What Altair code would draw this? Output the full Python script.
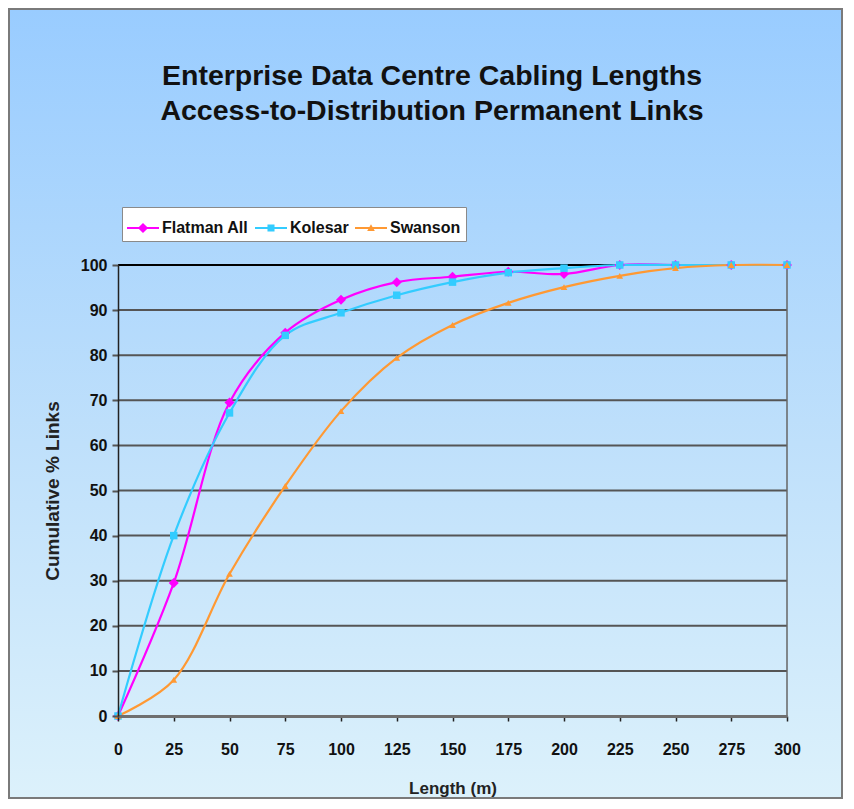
import altair as alt
import pandas as pd

# ---- data ----
lengths = [0, 25, 50, 75, 100, 125, 150, 175, 200, 225, 250, 275, 300]
flatman = [0, 29.5, 69.5, 85, 92.3, 96.2, 97.4, 98.5, 98, 100, 100, 100, 100]
kolesar = [0, 40, 67.2, 84.4, 89.4, 93.3, 96.2, 98.3, 99.3, 100, 100, 100, 100]
swanson = [0, 8, 31.5, 51, 67.6, 79.4, 86.7, 91.6, 95.1, 97.6, 99.3, 100, 100]
series_names = ["Flatman All", "Kolesar", "Swanson"]
series_colors = ["#ff00ff", "#33ccff", "#ff9933"]
x_ticks = [0, 25, 50, 75, 100, 125, 150, 175, 200, 225, 250, 275, 300]
y_ticks = [0, 10, 20, 30, 40, 50, 60, 70, 80, 90, 100]
title_lines = ["Enterprise Data Centre Cabling Lengths",
               "Access-to-Distribution Permanent Links"]

color_of = dict(zip(series_names, series_colors))
rows = []
for name, vals in zip(series_names, [flatman, kolesar, swanson]):
    for x, y in zip(lengths, vals):
        rows.append({"length": x, "pct": y, "series": name, "clr": color_of[name]})
df = pd.DataFrame(rows)
grid_df = pd.DataFrame({"v": y_ticks})

W, H = 669, 451
SANS = "Liberation Sans, Arial, Helvetica"

one = pd.DataFrame({"a": [0]})

# gradient background with border
bg = alt.Chart(one).mark_rect(
    fill=alt.Gradient(gradient="linear",
                      stops=[alt.GradientStop(color="#99ccff", offset=0),
                             alt.GradientStop(color="#bfe0fb", offset=0.55),
                             alt.GradientStop(color="#dcf1fb", offset=1)],
                      x1=0, x2=0, y1=0, y2=1),
    stroke="#7a7a7a", strokeWidth=2
).encode(x=alt.value(-109), x2=alt.value(W + 55),
         y=alt.value(-256), y2=alt.value(H + 82))

titles = [
    alt.Chart(one).mark_text(
        font=SANS, fontWeight="bold", fontSize=28.5, color="#111",
        align="center", baseline="middle"
    ).encode(x=alt.value(314), y=alt.value(yy), text=alt.value(t))
    for t, yy in zip(title_lines, [-189, -154])
]

x_scale = alt.Scale(domain=[0, 300], nice=False)
y_scale = alt.Scale(domain=[0, 100], nice=False)

x_enc = alt.X("length:Q", scale=x_scale,
              axis=alt.Axis(values=x_ticks, title="Length (m)", grid=False, zindex=1,
                            labelFlush=False, labelOverlap=False,
                            labelFont=SANS, labelFontSize=16, labelFontWeight="bold",
                            labelColor="#111", labelPadding=20, tickSize=5,
                            tickColor="#222", tickWidth=1.5,
                            domainColor="#6f6f6f", domainWidth=3,
                            titleFont=SANS, titleFontSize=17, titleFontWeight="bold",
                            titleColor="#222", titleY=72, titleBaseline="middle"))
y_enc = alt.Y("pct:Q", scale=y_scale,
              axis=alt.Axis(values=y_ticks, title="Cumulative % Links",
                            grid=False, zindex=1,
                            labelFlush=False, labelOverlap=False,
                            labelFont=SANS, labelFontSize=16, labelFontWeight="bold",
                            labelColor="#111", labelPadding=5, tickSize=6,
                            tickColor="#555", tickWidth=2,
                            domainColor="#222", domainWidth=1.5,
                            titleFont=SANS, titleFontSize=19, titleFontWeight="bold",
                            titleColor="#222", titleX=-66, titleY=H / 2,
                            titleAngle=-90, titleAlign="center", titleBaseline="middle"))

gridlines = alt.Chart(grid_df).mark_rule(strokeWidth=2).encode(
    y=alt.Y("v:Q", scale=y_scale),
    color=alt.condition(alt.datum.v == 100, alt.value("#000000"), alt.value("#555555")),
)

right_edge = alt.Chart(one).mark_rule(color="#666", strokeWidth=1.5).encode(
    x=alt.datum(300), y=alt.datum(0), y2=alt.datum(100))

lines = alt.Chart(df).mark_line(interpolate="catmull-rom", strokeWidth=2.2).encode(
    x=x_enc, y=y_enc,
    color=alt.Color("clr:N", scale=None),
    detail="series:N",
)

marker_spec = {"Flatman All": ("diamond", 100), "Kolesar": ("square", 56), "Swanson": ("triangle-up", 45)}
point_layers = []
for name in series_names:
    shp, sz = marker_spec[name]
    point_layers.append(
        alt.Chart(df).transform_filter(alt.datum.series == name).mark_point(
            filled=True, opacity=1, shape=shp, size=sz, color=color_of[name]
        ).encode(x="length:Q", y="pct:Q")
    )

legend_shapes = [
    "M-1,-0.07H1V0.07H-1Z M0,-0.32L0.32,0L0,0.32L-0.32,0Z",
    "M-1,-0.07H1V0.07H-1Z M-0.22,-0.22H0.22V0.22H-0.22Z",
    "M-1,-0.07H1V0.07H-1Z M0,-0.24L0.24,0.18H-0.24Z",
]

def leg():
    return alt.Legend(title=None, orient="none", legendX=4, legendY=-58,
                      direction="horizontal", fillColor="white",
                      strokeColor="#8a8a8a", padding=5,
                      symbolOpacity=1, symbolSize=1024,
                      symbolStrokeWidth=0, labelFont=SANS,
                      labelFontSize=16, labelFontWeight="bold",
                      labelColor="#111", labelOffset=3,
                      columnPadding=6, symbolOffset=0, zindex=3)

legend_layer = alt.Chart(df).mark_point(filled=True, opacity=0).encode(
    x="length:Q", y="pct:Q",
    color=alt.Color("series:N", scale=alt.Scale(domain=series_names, range=series_colors),
                    legend=leg()),
    shape=alt.Shape("series:N", scale=alt.Scale(domain=series_names, range=legend_shapes),
                    legend=leg()),
)

chart = alt.layer(bg, *titles, gridlines, right_edge, lines, *point_layers, legend_layer).properties(
    width=W, height=H, padding=0, background="white"
).configure_view(stroke=None)

chart.save("out.html", embed_options={"renderer": "svg", "actions": False})
